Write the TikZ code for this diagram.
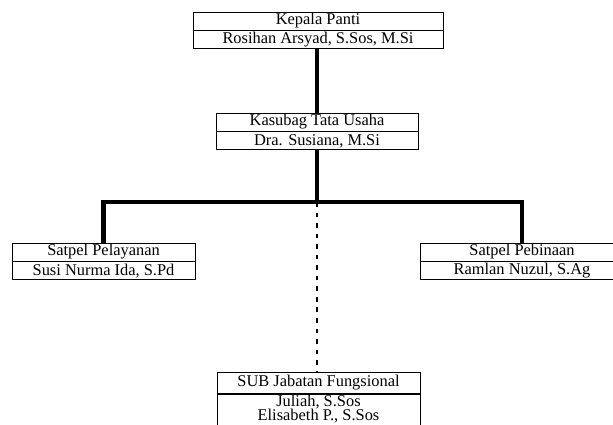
\documentclass[tikz,border=0pt]{standalone}
\usepackage{fontspec}
\setmainfont{Liberation Serif}
\usetikzlibrary{positioning}
\tikzset{
  kotak/.style={draw, line width=0.8pt, inner sep=0pt, minimum height=0.54cm,
    font=\fontsize{14}{14.5}\selectfont},
  garis/.style={line width=3.5pt},
  putus/.style={line width=1.2pt, dash pattern=on 4pt off 5pt}
}
\begin{document}
\begin{tikzpicture}[x=0.03cm,y=-0.03cm]
\useasboundingbox (0,0) rectangle (613,425);
\clip (0,0) rectangle (613,425);
% kepala panti
\node[kotak, minimum width=7.5cm] (kepala) at (318,21) {Kepala Panti};
\node[kotak, minimum width=7.5cm, below=0pt of kepala] (kepala2) {Rosihan Arsyad, S.Sos, M.Si};
% kasubag
\node[kotak, minimum width=6.06cm] (kasubag) at (317,122) {Kasubag Tata Usaha};
\node[kotak, minimum width=6.06cm, below=0pt of kasubag] (kasubag2) {Dra. Susiana, M.Si};
% satpel
\node[kotak, minimum width=5.49cm] (pelayanan) at (103.5,252) {Satpel Pelayanan};
\node[kotak, minimum width=5.49cm, below=0pt of pelayanan] (pelayanan2) {Susi Nurma Ida, S.Pd};
\node[kotak, minimum width=6.12cm] (pebinaan) at (522,252) {Satpel Pebinaan};
\node[kotak, minimum width=6.12cm, below=0pt of pebinaan] (pebinaan2) {Ramlan Nuzul, S.Ag};
% fungsional
\node[kotak, minimum width=6.09cm, minimum height=0.64cm] (sub) at (318.5,383) {SUB Jabatan Fungsional};
\node[kotak, minimum width=6.09cm, minimum height=1.5cm, anchor=north, align=center,
  font=\fontsize{14}{12.5}\selectfont, text depth=0.7cm] (sub2) at (sub.south) {Juliah, S.Sos\\Elisabeth P., S.Sos};
\coordinate (simpul) at (317,202);
\draw[garis] (kepala2.south -| simpul) -- (kasubag.north -| simpul);
\draw[garis] (kasubag2.south -| simpul) -- (simpul);
\draw[garis] (pelayanan.north) |- (simpul) -| (pebinaan.north);
\draw[putus] (simpul) -- (sub.north -| simpul);
\end{tikzpicture}
\end{document}
